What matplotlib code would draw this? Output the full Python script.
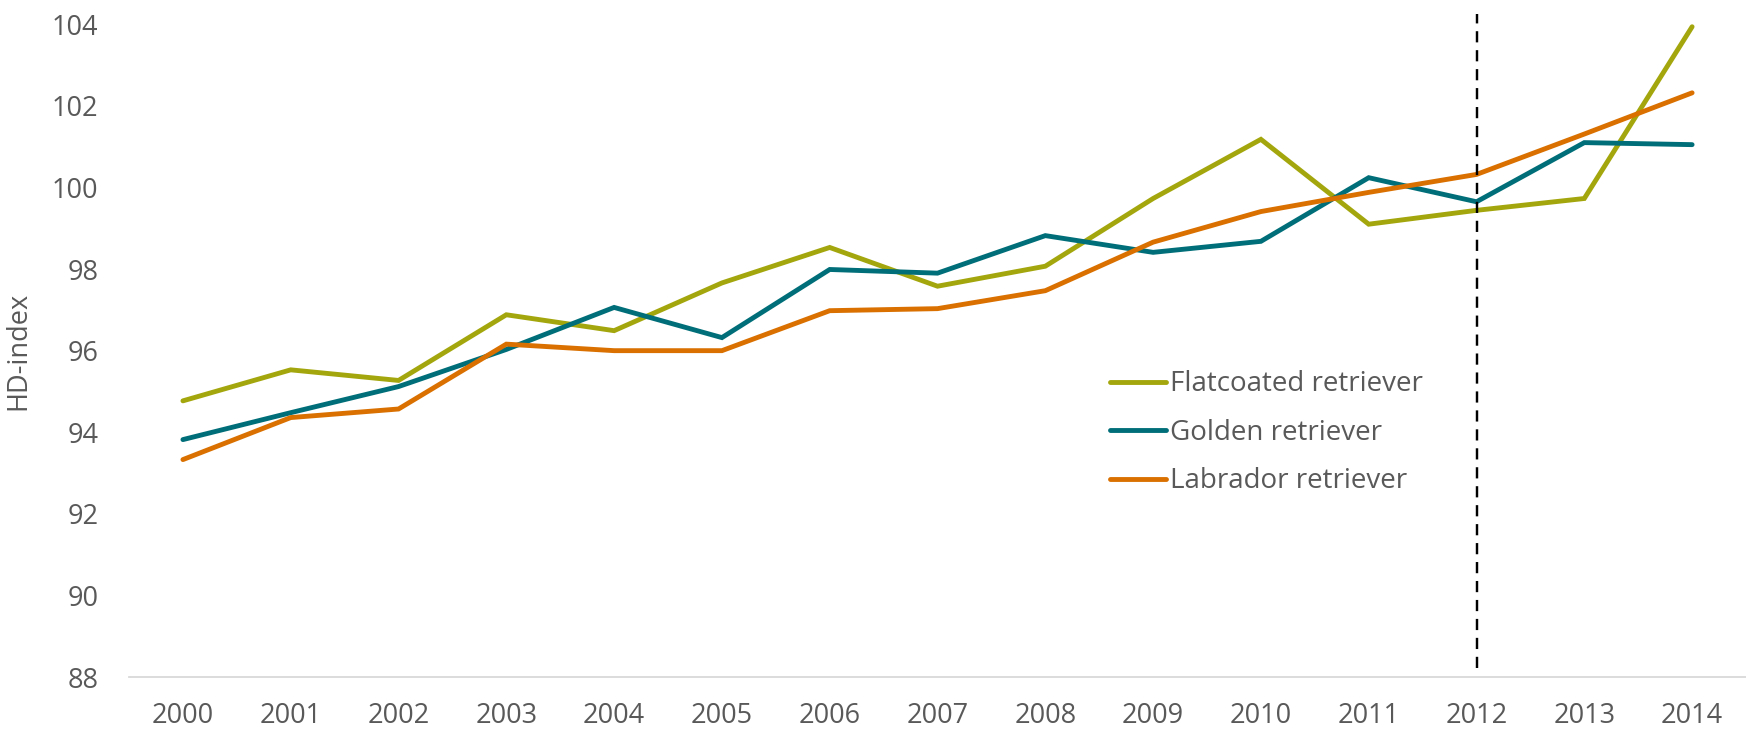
import numpy as np
import matplotlib
matplotlib.use("Agg")
import matplotlib.pyplot as plt

# Dados
years = ['2000', '2001', '2002', '2003', '2004', '2005', '2006', '2007',
         '2008', '2009', '2010', '2011', '2012', '2013', '2014']
flatcoated = [94.77, 95.53, 95.27, 96.88, 96.49, 97.66, 98.53, 97.58,
              98.07, 99.73, 101.18, 99.10, 99.44, 99.73, 103.94]
golden = [93.82, 94.48, 95.12, 96.03, 97.06, 96.32, 97.99, 97.90,
          98.82, 98.41, 98.68, 100.24, 99.65, 101.10, 101.05]
labrador = [93.33, 94.36, 94.57, 96.16, 96.00, 96.00, 96.98, 97.03,
            97.47, 98.66, 99.41, 99.88, 100.32, 101.31, 102.32]
series_labels = ['Flatcoated retriever', 'Golden retriever', 'Labrador retriever']
y_ticks = [88, 90, 92, 94, 96, 98, 100, 102, 104]
cut_year = '2012'

colors = ['#A3A60C', '#006E78', '#D97000']
text_color = '#595959'

plt.rcParams['font.family'] = ['Open Sans', 'DejaVu Sans']

fig = plt.figure(figsize=(17.46, 7.32), dpi=100)
ax = fig.add_axes([0.0739, 0.0751, 0.9261, 0.8917])

x = np.arange(len(years))
for vals, lab, col in zip([flatcoated, golden, labrador], series_labels, colors):
    ax.plot(x, vals, color=col, lw=3.5, label=lab, clip_on=False,
            solid_capstyle='round', solid_joinstyle='miter')

# linha vertical tracejada em 2012
xc = years.index(cut_year)
ax.vlines(xc, 88.22, 104.25, colors='black', linestyles=(0, (4.6, 3.2)), lw=1.75, clip_on=False)

ax.set_xlim(-0.5, len(years) - 0.5)
ax.set_ylim(88, 104)
ax.set_xticks(x)
ax.set_xticklabels(years)
ax.set_yticks(y_ticks)

for s in ['top', 'right', 'left']:
    ax.spines[s].set_visible(False)
ax.spines['bottom'].set_color('#D9D9D9')
ax.spines['bottom'].set_linewidth(1.3)

ax.tick_params(axis='both', length=0, labelsize=19.5, colors=text_color)
ax.tick_params(axis='y', pad=22)
ax.tick_params(axis='x', pad=18)

ax.set_ylabel('HD-index', fontsize=19.5, color=text_color, labelpad=14)

leg = ax.legend(loc='upper left', bbox_to_anchor=(0.60, 0.487), frameon=False,
                fontsize=20, handlelength=2.0, handletextpad=0.15,
                labelspacing=0.74, borderaxespad=0)
for t in leg.get_texts():
    t.set_color(text_color)

fig.savefig('out.png', dpi=100)
